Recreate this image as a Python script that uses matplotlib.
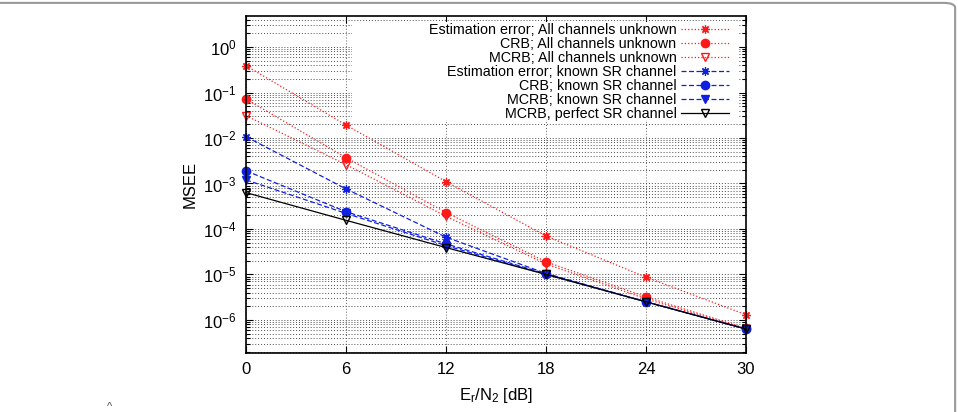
import matplotlib
matplotlib.use('Agg')
import matplotlib.pyplot as plt
from matplotlib.patches import Rectangle, FancyBboxPatch

plt.rcParams['font.family'] = ['Liberation Sans', 'DejaVu Sans']
plt.rcParams['mathtext.fontset'] = 'custom'
plt.rcParams['mathtext.rm'] = 'Liberation Sans'
plt.rcParams['axes.unicode_minus'] = False

# E_r/N_2 in dB
snr = [0, 6, 12, 18, 24, 30]

ee_all = [0.39, 0.0193, 0.0011, 7.0e-5, 8.7e-6, 1.3e-6]
crb_all = [0.072, 0.0037, 2.3e-4, 1.9e-5, 3.2e-6, 6.5e-7]
mcrb_all = [0.031, 0.0026, 1.9e-4, 1.7e-5, 2.9e-6, 6.4e-7]
ee_sr = [0.0107, 7.6e-4, 6.6e-5, 1.05e-5, 2.5e-6, 6.3e-7]
crb_sr = [1.9e-3, 2.4e-4, 4.7e-5, 1.03e-5, 2.5e-6, 6.3e-7]
mcrb_sr = [1.2e-3, 2.2e-4, 4.3e-5, 1.0e-5, 2.5e-6, 6.3e-7]
mcrb_perfect = [6.3e-4, 1.55e-4, 3.9e-5, 1.0e-5, 2.5e-6, 6.3e-7]

labels = ['Estimation error; All channels unknown',
          'CRB; All channels unknown',
          'MCRB; All channels unknown',
          'Estimation error; known SR channel',
          'CRB; known SR channel',
          'MCRB; known SR channel',
          'MCRB, perfect SR channel']

fig = plt.figure(figsize=(9.58, 4.12), dpi=100)
ax = fig.add_axes([0.2568, 0.1439, 0.5219, 0.8180])

star = (8, 2, 0)
red = '#ff1a1a'
blue = '#1020e0'
dash = (0, (4, 2))
kw = dict(lw=0.9, ms=6, clip_on=False)
ax.plot(snr, ee_all, color=red, ls=':', marker=star, mew=0.9, label=labels[0], **kw)
ax.plot(snr, crb_all, color=red, ls=':', marker='o', label=labels[1], **kw)
ax.plot(snr, mcrb_all, color=red, ls=':', marker='v', mfc='none', mew=1.0, label=labels[2], **kw)
ax.plot(snr, ee_sr, color=blue, ls=dash, marker=star, mew=0.9, label=labels[3], **kw)
ax.plot(snr, crb_sr, color=blue, ls=dash, marker='o', label=labels[4], **kw)
ax.plot(snr, mcrb_sr, color=blue, ls=dash, marker='v', label=labels[5], **kw)
ax.plot(snr, mcrb_perfect, color='black', ls='-', marker='v', mfc='none', mew=1.0, label=labels[6], **kw)

ax.set_yscale('log')
ax.set_xlim(0, 30)
ax.set_ylim(1.9e-7, 4.9)
ax.set_xticks(snr)
ax.set_yticks([1e-6, 1e-5, 1e-4, 1e-3, 1e-2, 1e-1, 1e0])

ax.set_axisbelow(True)
ax.grid(True, which='major', axis='x', color='0.4', ls=(0, (1, 2)), lw=0.7)
ax.grid(True, which='both', axis='y', color='0.3', ls=(0, (1, 2)), lw=0.7)
ax.tick_params(which='both', direction='in', top=True, right=True, labelsize=12, pad=7)
ax.tick_params(which='major', length=5, width=0.8)
ax.tick_params(which='minor', length=3, width=0.8)
for s in ax.spines.values():
    s.set_linewidth(1.2)
    s.set_zorder(3)

ax.set_ylabel('MSEE', fontsize=12, labelpad=4)
ax.set_xlabel(r'$\mathregular{E_r/N_2}$ [dB]', fontsize=12, labelpad=6)

# opaque key box as in the original, hiding the grid under it
ax.add_patch(Rectangle((0.212, 0.69), 0.772, 0.291, transform=ax.transAxes,
                       fc='white', ec='none', zorder=1.5))
leg = ax.legend(loc='upper right', bbox_to_anchor=(0.987, 1.008), frameon=False,
                markerfirst=False, fontsize=10.3, handlelength=3.4,
                handletextpad=0.3, labelspacing=0.0, borderpad=0.2)

# page frame remnants
fig.add_artist(FancyBboxPatch((-0.05, -0.1), 1.047, 1.093, boxstyle='round,pad=0,rounding_size=0.012',
                              transform=fig.transFigure, fc='none', ec='0.6', lw=1.5))
fig.text(0.112, 0.004, '^', fontsize=8, color='0.3')

fig.savefig('out.png', dpi=100)
